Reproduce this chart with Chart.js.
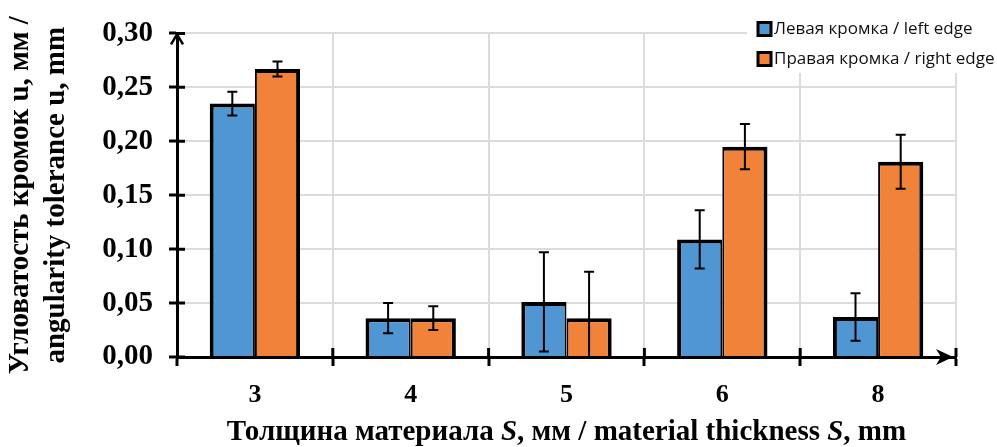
<!DOCTYPE html>
<html>
<head>
<meta charset="utf-8">
<script src="https://cdn.jsdelivr.net/npm/chart.js@4.4.1/dist/chart.umd.min.js"></script>
<style>
  html, body { margin: 0; padding: 0; background: #fff; }
  #wrap { width: 997px; height: 447px; position: relative; }
</style>
</head>
<body>
<div id="wrap"><canvas id="chartAngularity"></canvas></div>
<script>
// Толщина материала S, мм
const thickness = ['3', '4', '5', '6', '8'];

// Левая кромка / left edge
const leftEdge = [0.235, 0.036, 0.051, 0.109, 0.037];
const leftEdgeErr = [0.011, 0.014, 0.046, 0.027, 0.022];

// Правая кромка / right edge
const rightEdge = [0.267, 0.036, 0.036, 0.195, 0.181];
const rightEdgeErr = [0.007, 0.011, 0.043, 0.021, 0.025];

// Деления оси Y
const yTicks = [0, 0.05, 0.10, 0.15, 0.20, 0.25, 0.30];

const seriesNames = ['Левая кромка / left edge', 'Правая кромка / right edge'];
const yTitle = ['Угловатость кромок u, мм /', 'angularity tolerance u, mm'];
// [текст, курсив]
const xTitleParts = [
  ['Толщина материала ', false],
  ['S', true],
  [', мм / material thickness ', false],
  ['S', true],
  [', mm', false]
];

const SERIF = '"Liberation Serif", "Times New Roman", serif';

// Планки погрешностей
const errorBarsPlugin = {
  id: 'errorBars',
  afterDatasetsDraw(chart) {
    const ctx = chart.ctx;
    const y = chart.scales.y;
    chart.data.datasets.forEach((ds, di) => {
      const meta = chart.getDatasetMeta(di);
      meta.data.forEach((bar, i) => {
        const v = ds.data[i];
        const e = ds.errors[i];
        const top = y.getPixelForValue(v + e);
        const low = v - e;
        const bottom = y.getPixelForValue(Math.max(low, 0));
        ctx.save();
        ctx.strokeStyle = '#000';
        ctx.lineWidth = 2;
        ctx.beginPath();
        ctx.moveTo(bar.x, top);
        ctx.lineTo(bar.x, bottom);
        ctx.moveTo(bar.x - 5, top);
        ctx.lineTo(bar.x + 5, top);
        if (low >= 0) {
          ctx.moveTo(bar.x - 5, bottom);
          ctx.lineTo(bar.x + 5, bottom);
        }
        ctx.stroke();
        ctx.restore();
      });
    });
  }
};

// Стрелки осей, засечки, подпись оси X и легенда
const decorPlugin = {
  id: 'decor',
  afterDraw(chart) {
    const ctx = chart.ctx;
    const area = chart.chartArea;
    const x = chart.scales.x;
    const y = chart.scales.y;
    ctx.save();
    ctx.strokeStyle = '#000';
    ctx.fillStyle = '#000';
    ctx.lineWidth = 3;

    // внутренние половинки засечек
    ctx.beginPath();
    y.ticks.forEach(t => {
      const py = y.getPixelForValue(t.value);
      ctx.moveTo(area.left, py);
      ctx.lineTo(area.left + 8, py);
    });
    const step = x.getPixelForTick(1) - x.getPixelForTick(0);
    for (let i = 0; i < thickness.length; i++) {
      const px = x.getPixelForTick(i) + step / 2;
      ctx.moveTo(px, area.bottom);
      ctx.lineTo(px, area.bottom - 9);
    }
    ctx.stroke();

    // стрелка оси Y
    ctx.lineWidth = 2.5;
    ctx.beginPath();
    ctx.moveTo(area.left - 6, area.top + 11);
    ctx.lineTo(area.left, area.top + 1);
    ctx.lineTo(area.left + 6, area.top + 11);
    ctx.stroke();

    // стрелка оси X
    const ax = area.right - 3;
    ctx.beginPath();
    ctx.moveTo(ax, area.bottom);
    ctx.lineTo(ax - 17, area.bottom - 8);
    ctx.lineTo(ax - 12, area.bottom);
    ctx.lineTo(ax - 17, area.bottom + 8);
    ctx.closePath();
    ctx.fill();

    // подпись оси X (с курсивной S)
    const fontN = 'bold 29px ' + SERIF;
    const fontI = 'italic bold 29px ' + SERIF;
    let total = 0;
    xTitleParts.forEach(p => {
      ctx.font = p[1] ? fontI : fontN;
      total += ctx.measureText(p[0]).width;
    });
    let tx = (area.left + area.right) / 2 - total / 2;
    ctx.textBaseline = 'middle';
    ctx.textAlign = 'left';
    xTitleParts.forEach(p => {
      ctx.font = p[1] ? fontI : fontN;
      ctx.fillText(p[0], tx, 433);
      tx += ctx.measureText(p[0]).width;
    });

    // легенда
    ctx.fillStyle = '#fff';
    ctx.fillRect(747, 0, 250, 73);
    chart.data.datasets.forEach((ds, i) => {
      const cy = 29 + i * 30;
      ctx.fillStyle = ds.backgroundColor;
      ctx.fillRect(758, cy - 6.5, 13, 13);
      ctx.lineWidth = 3;
      ctx.strokeStyle = '#000';
      ctx.strokeRect(758, cy - 6.5, 13, 13);
      ctx.fillStyle = '#111';
      ctx.font = '17px "Open Sans", sans-serif';
      ctx.textBaseline = 'middle';
      ctx.fillText(ds.label, 774, cy);
    });
    ctx.restore();
  }
};

const chart = new Chart(document.getElementById('chartAngularity'), {
  type: 'bar',
  data: {
    labels: thickness,
    datasets: [
      {
        label: seriesNames[0],
        data: leftEdge,
        errors: leftEdgeErr,
        backgroundColor: '#4f96d3',
        borderColor: '#000',
        borderWidth: { top: 4, left: 4, right: 2, bottom: 0 }
      },
      {
        label: seriesNames[1],
        data: rightEdge,
        errors: rightEdgeErr,
        backgroundColor: '#f1823a',
        borderColor: '#000',
        borderWidth: { top: 4, left: 2, right: 4, bottom: 0 }
      }
    ]
  },
  options: {
    responsive: true,
    maintainAspectRatio: false,
    animation: false,
    categoryPercentage: 0.58,
    barPercentage: 1.0,
    layout: { padding: { left: 0, right: 41, top: 29, bottom: 0 } },
    plugins: {
      legend: { display: false },
      tooltip: { enabled: false }
    },
    scales: {
      x: {
        z: 1,
        afterFit: s => { s.height = 90; },
        grid: {
          offset: true,
          color: '#dcdcdc',
          lineWidth: 2,
          tickColor: '#000',
          tickWidth: 3,
          tickLength: 9
        },
        border: { color: '#000', width: 3 },
        ticks: {
          color: '#000',
          padding: 14,
          font: { family: SERIF, size: 26, weight: 'bold' }
        }
      },
      y: {
        min: 0,
        max: 0.30,
        afterFit: s => { s.width = 177; },
        afterBuildTicks: s => { s.ticks = yTicks.map(v => ({ value: v })); },
        grid: {
          color: '#dcdcdc',
          lineWidth: 2,
          tickColor: '#000',
          tickWidth: 3,
          tickLength: 8
        },
        border: { color: '#000', width: 3 },
        ticks: {
          color: '#000',
          padding: 16,
          font: { family: SERIF, size: 29, weight: 'bold' },
          callback: v => v.toFixed(2).replace('.', ',')
        },
        title: {
          display: true,
          text: yTitle,
          color: '#000',
          padding: { top: 3, bottom: 0 },
          font: { family: SERIF, size: 29, weight: 'bold', lineHeight: 1.22 }
        }
      }
    }
  },
  plugins: [errorBarsPlugin, decorPlugin]
});
</script>
</body>
</html>
